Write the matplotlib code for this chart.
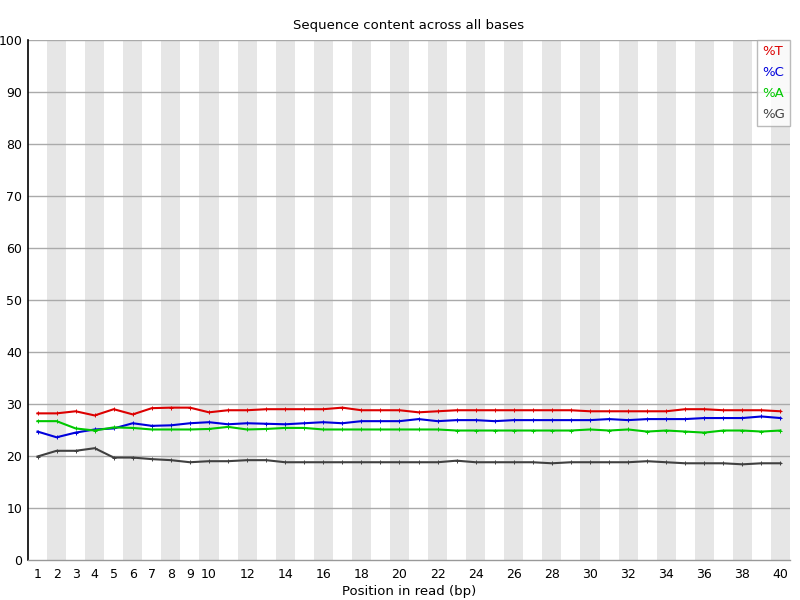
import matplotlib
matplotlib.use("Agg")
import matplotlib.pyplot as plt

positions = list(range(1, 41))
pct_T = [28.2, 28.2, 28.6, 27.8, 29.0, 28.0, 29.2, 29.3, 29.3, 28.4,
         28.8, 28.8, 29.0, 29.0, 29.0, 29.0, 29.3, 28.8, 28.8, 28.8,
         28.4, 28.6, 28.8, 28.8, 28.8, 28.8, 28.8, 28.8, 28.8, 28.6,
         28.6, 28.6, 28.6, 28.6, 29.0, 29.0, 28.8, 28.8, 28.8, 28.6]
pct_C = [24.7, 23.6, 24.5, 25.1, 25.3, 26.3, 25.8, 25.9, 26.3, 26.5,
         26.1, 26.3, 26.2, 26.1, 26.3, 26.5, 26.3, 26.7, 26.7, 26.7,
         27.1, 26.7, 26.9, 26.9, 26.7, 26.9, 26.9, 26.9, 26.9, 26.9,
         27.1, 26.9, 27.1, 27.1, 27.1, 27.3, 27.3, 27.3, 27.6, 27.3]
pct_A = [26.7, 26.7, 25.3, 24.9, 25.5, 25.4, 25.1, 25.1, 25.1, 25.2,
         25.6, 25.1, 25.2, 25.4, 25.4, 25.1, 25.1, 25.1, 25.1, 25.1,
         25.1, 25.1, 24.9, 24.9, 24.9, 24.9, 24.9, 24.9, 24.9, 25.1,
         24.9, 25.1, 24.7, 24.9, 24.7, 24.5, 24.9, 24.9, 24.7, 24.9]
pct_G = [19.9, 21.0, 21.0, 21.5, 19.7, 19.7, 19.4, 19.2, 18.8, 19.0,
         19.0, 19.2, 19.2, 18.8, 18.8, 18.8, 18.8, 18.8, 18.8, 18.8,
         18.8, 18.8, 19.1, 18.8, 18.8, 18.8, 18.8, 18.6, 18.8, 18.8,
         18.8, 18.8, 19.0, 18.8, 18.6, 18.6, 18.6, 18.4, 18.6, 18.6]

series = [("%T", pct_T, "#dc0000"), ("%C", pct_C, "#0000dc"),
          ("%A", pct_A, "#00c800"), ("%G", pct_G, "#404040")]

xtick_labels = [1, 2, 3, 4, 5, 6, 7, 8, 9, 10] + list(range(12, 41, 2))
yticks = list(range(0, 101, 10))

plt.rcParams['font.family'] = ['DejaVu Sans']
fig = plt.figure(figsize=(8, 6), dpi=100)
ax = fig.add_axes([28/800, 40/600, 762/800, 520/600])

ax.set_xlim(0.5, 40.5)
ax.set_ylim(0, 100)

for p in positions:
    if p % 2 == 0:
        ax.axvspan(p - 0.5, p + 0.5, color="#e6e6e6", lw=0, zorder=0)

for y in yticks[1:]:
    ax.axhline(y, color="#aaaaaa", lw=1, zorder=1)

for label, vals, col in series:
    ax.plot(positions, vals, color=col, lw=1.5, label=label, zorder=3,
            marker='+', markersize=2.5, markeredgewidth=0.7)

ax.set_yticks(yticks)
ax.set_yticklabels([str(v) for v in yticks])
ax.set_xticks(xtick_labels)
ax.set_xticklabels([str(v) for v in xtick_labels])
ax.tick_params(axis='both', length=0, labelsize=9)
ax.tick_params(axis='y', pad=4)
ax.tick_params(axis='x', pad=6)

for s in ['top', 'right']:
    ax.spines[s].set_visible(False)
ax.spines['left'].set_color('black')
ax.spines['left'].set_linewidth(1.2)
ax.spines['bottom'].set_color('#999999')
ax.spines['bottom'].set_linewidth(1)

ax.set_title("Sequence content across all bases", fontsize=9.5, pad=8)
ax.set_xlabel("Position in read (bp)", fontsize=9.5, labelpad=3)

leg = ax.legend(loc='upper right', handlelength=0, handletextpad=0,
                fontsize=9.5, frameon=True, fancybox=False,
                borderaxespad=0.0, borderpad=0.4, labelspacing=0.6,
                bbox_to_anchor=(1.0, 1.0))
leg.get_frame().set_edgecolor('#aaaaaa')
leg.get_frame().set_linewidth(1)
for h in leg.legend_handles:
    h.set_visible(False)
for t, (label, vals, col) in zip(leg.get_texts(), series):
    t.set_color(col)

fig.savefig("out.png", dpi=100)
